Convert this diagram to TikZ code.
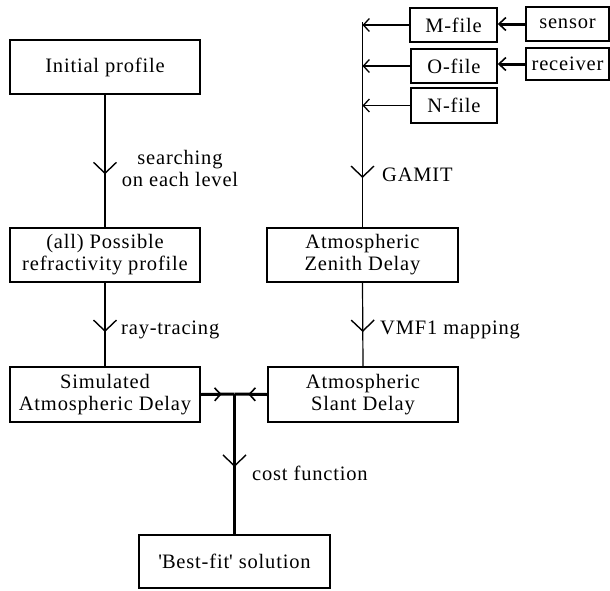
\documentclass[tikz,border=0pt]{standalone}
\usepackage{fontspec}
\setmainfont[LetterSpace=4]{Liberation Serif}
\usetikzlibrary{arrows.meta,decorations.markings}
\begin{document}
\begin{tikzpicture}[x=1pt,y=-1pt,
  box/.style={draw,line width=1.5pt,minimum width=#1,inner sep=0pt,align=center,
    font=\fontsize{20.5}{22}\selectfont},
  lbl/.style={font=\fontsize{20.5}{22}\selectfont,align=center,inner sep=0pt},
  thin/.style={line width=1.2pt},
  mid/.style={line width=2pt},
  thick/.style={line width=3pt},
  vmark/.style={postaction={decorate},decoration={markings,
    mark=at position #1 with {\arrow{Straight Barb[length=11pt,width=23pt,line width=1.4pt]}}}},
  hmark/.style={postaction={decorate},decoration={markings,
    mark=at position #1 with {\arrow{Straight Barb[length=6pt,width=13pt,line width=1.6pt]}}}},
  endtip/.style={-{Straight Barb[length=6pt,width=13pt,line width=1.3pt]}}
]
\useasboundingbox (0,0) rectangle (610,590);
% left column
\node[box=190pt,minimum height=54pt] (init) at (105,67) {Initial profile};
\node[box=190pt,minimum height=54pt] (poss) at (105,255) {(all) Possible\\refractivity profile};
\node[box=190pt,minimum height=55pt] (sim) at (105,394.5) {Simulated\\Atmospheric Delay};
% right column
\node[box=191pt,minimum height=54pt] (zen) at (362.5,255) {Atmospheric\\Zenith Delay};
\node[box=190pt,minimum height=55pt] (slant) at (363,394.5) {Atmospheric\\Slant Delay};
% bottom
\node[box=191pt,minimum height=53pt] (best) at (234.5,561.5) {\textquotesingle Best-fit\textquotesingle{} solution};
% files
\node[box=87pt,minimum height=34pt] (mfile) at (453.5,25) {M-file};
\node[box=86pt,minimum height=34pt] (ofile) at (454,66) {O-file};
\node[box=86pt,minimum height=35pt] (nfile) at (454,105.5) {N-file};
\node[box=83pt,minimum height=34pt] (sensor) at (567.5,24) {sensor};
\node[box=83pt,minimum height=32pt] (receiver) at (567.5,64) {receiver};
% coordinates
\coordinate (gtop) at (362.5,22);
\coordinate (J) at (234.5,394);
% connectors
\draw[thin,vmark=0.6] (init.south) -- (poss.north);
\draw[mid,vmark=0.59] (poss.south) -- (sim.north);
\draw[thin,vmark=0.59] (zen.south) -- (slant.north);
\draw[thin,vmark=0.76] (gtop) -- (zen.north);
\draw[thick,hmark=0.62] (sim.east) -- (J);
\draw[thick,hmark=0.58] (slant.west) -- (J);
\draw[thick,vmark=0.52] (J) -- (best.north);
\draw[thin,endtip] (mfile.west) -- (mfile.west -| gtop);
\draw[thin,endtip] (ofile.west) -- (ofile.west -| gtop);
\draw[thin,endtip] (nfile.west) -- (nfile.west -| gtop);
\draw[thick,-{Straight Barb[length=7pt,width=13pt,line width=1.6pt]}] (sensor.west) -- (sensor.west -| mfile.east);
\draw[thick,-{Straight Barb[length=7pt,width=13pt,line width=1.6pt]}] (receiver.west) -- (receiver.west -| ofile.east);
% labels
\node[lbl] (l1) at (180,168) {searching\\on each level};
\node[lbl,anchor=west] (l2) at (121,330) {ray-tracing};
\node[lbl,anchor=west] (l3) at (380,330) {VMF1 mapping};
\node[lbl,anchor=west] (l4) at (382,175) {GAMIT};
\node[lbl,anchor=west] (l5) at (252,473) {cost function};
\end{tikzpicture}
\end{document}
